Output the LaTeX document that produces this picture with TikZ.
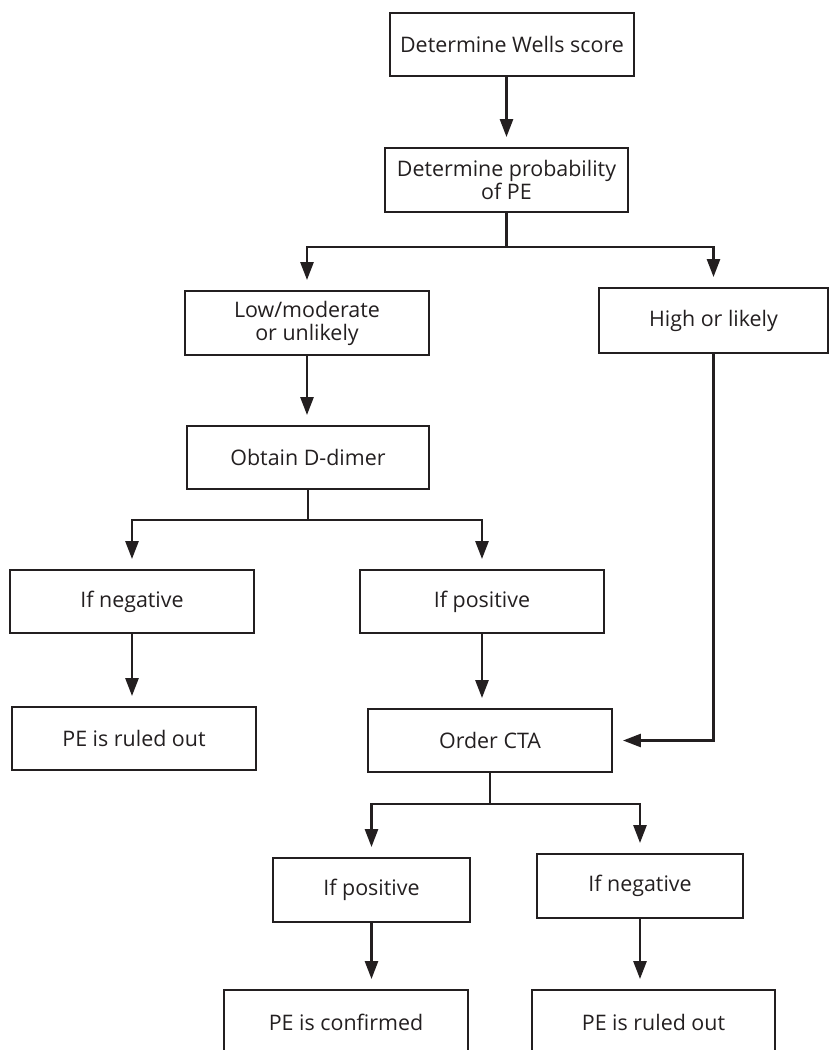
\documentclass[tikz,border=0pt]{standalone}
\usepackage{fontspec}
\setmainfont{Open Sans}
\usetikzlibrary{arrows.meta}
\definecolor{linegray}{HTML}{231F20}

\tikzset{
  box/.style={draw=linegray, text=linegray, line width=1.9bp, align=center,
    minimum width=244bp, minimum height=63bp, inner sep=0pt,
    font=\fontsize{21.5}{23}\selectfont},
  wire/.style={draw=linegray, line width=2.7bp},
  arr/.style={wire, -{Triangle[length=18bp,width=13bp]}, shorten >=10bp}
}

\begin{document}
\begin{tikzpicture}[x=1bp,y=-1bp]
      \useasboundingbox (0,0) rectangle (831,1050);
      % boxes
      \node[box] (wells) at (512,44.5) {Determine Wells score};
      \node[box, minimum width=243bp, minimum height=64bp] (prob) at (506.5,180) {Determine probability\\of PE};
      \node[box, minimum height=64bp] (low) at (307,323) {Low/moderate\\or unlikely};
      \node[box, minimum width=229bp, minimum height=65bp] (high) at (713.5,320.5) {High or likely};
      \node[box, minimum width=242bp] (ddimer) at (308,457.5) {Obtain D-dimer};
      \node[box] (negA) at (132,601.5) {If negative};
      \node[box] (posA) at (482,601.5) {If positive};
      \node[box] (ruledA) at (134,738.5) {PE is ruled out};
      \node[box] (cta) at (490,740.5) {Order CTA};
      \node[box, minimum width=197bp, minimum height=64bp] (posB) at (371.5,890) {If positive};
      \node[box, minimum width=206bp, minimum height=64bp] (negB) at (640,886) {If negative};
      \node[box, minimum height=64bp] (confirmed) at (346,1022) {PE is confirmed};
      \node[box, minimum width=243bp, minimum height=64bp] (ruledB) at (653.5,1022) {PE is ruled out};
      % connectors
      \draw[arr] (wells.south -| prob.north) -- (prob.north);
      \draw[wire] (prob.south) -- ++(0,34) coordinate (jA);
      \draw[arr] (jA) -| (low.north);
      \draw[arr] (jA) -| (high.north);
      \draw[arr] (low.south) -- (low.south |- ddimer.north);
      \draw[wire] (ddimer.south) -- ++(0,30) coordinate (jB);
      \draw[arr] (jB) -| (negA.north);
      \draw[arr] (jB) -| (posA.north);
      \draw[arr] (negA.south) -- (negA.south |- ruledA.north);
      \draw[arr] (posA.south) -- (posA.south |- cta.north);
      \draw[arr] (high.south) |- (cta.east);
      \draw[wire] (cta.south) -- ++(0,31) coordinate (jC);
      \draw[arr] (jC) -| (posB.north);
      \draw[arr] (jC) -| (negB.north);
      \draw[arr] (posB.south) -- (posB.south |- confirmed.north);
      \draw[arr] (negB.south) -- (negB.south |- ruledB.north);
    \end{tikzpicture}
\end{document}
